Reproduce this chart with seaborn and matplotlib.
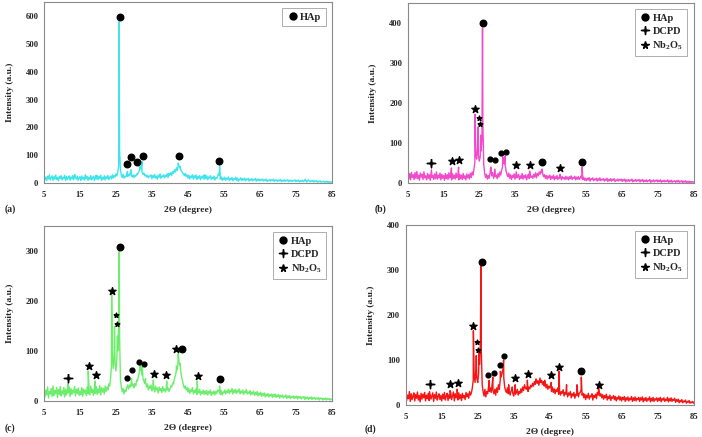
import numpy as np
import pandas as pd
import matplotlib
matplotlib.use("Agg")
import matplotlib.pyplot as plt
from matplotlib.lines import Line2D
import seaborn as sns

# 2-theta grid (every 0.25 degree) and background intensities
two_theta = np.arange(5, 85.001, 0.25)

a_base = [28, 12, 22, 9, 25, 15, 30, 11, 19, 26, 10, 23, 14, 29, 13, 20, 8, 24, 17, 27,
          11, 21, 16, 28, 9, 24, 13, 19, 26, 10, 22, 15, 27, 12, 31, 20, 14, 25, 10, 18,
          23, 9, 26, 14, 20, 11, 30, 16, 24, 10, 21, 13, 27, 12, 19, 25, 9, 22, 15, 28,
          12, 24, 17, 29, 10, 21, 14, 26, 11, 23, 16, 28, 13, 20, 25, 15, 30, 18, 27, 22,
          33, 26, 40, 60, 120, 45, 28, 20, 32, 18, 25, 22, 35, 24, 30, 26, 40, 28, 22, 30,
          20, 28, 24, 33, 30, 38, 45, 55, 50, 40, 32, 36, 26, 30, 22, 28, 19, 26, 23, 30,
          16, 27, 20, 31, 18, 25, 14, 29, 21, 33, 17, 26, 22, 30, 19, 28, 24, 34, 20, 27,
          30, 38, 28, 42, 35, 48, 40, 52, 45, 58, 62, 55, 48, 42, 38, 33, 27, 35, 24, 30,
          18, 28, 15, 25, 20, 30, 14, 26, 19, 29, 13, 24, 17, 27, 12, 23, 18, 28, 14, 24,
          16, 26, 12, 22, 18, 27, 13, 21, 15, 25, 11, 20, 17, 24, 35, 28, 14, 22, 10, 19,
          13, 21, 10, 18, 14, 22, 9, 17, 12, 20, 8, 16, 13, 21, 10, 18, 7, 15, 12, 19,
          9, 16, 11, 18, 8, 15, 12, 17, 7, 14, 10, 16, 8, 13, 11, 17, 7, 14, 9, 15,
          8, 13, 10, 15, 7, 12, 9, 14, 6, 11, 8, 13, 7, 12, 9, 14, 6, 11, 8, 12,
          6, 11, 8, 13, 5, 10, 7, 12, 6, 11, 8, 12, 5, 10, 7, 11, 6, 9, 8, 12,
          5, 10, 7, 11, 4, 9, 6, 10, 5, 9, 7, 11, 4, 8, 12, 7, 5, 9, 6, 10,
          4, 8, 6, 9, 3, 7, 5, 8, 3, 6, 5, 7, 2, 6, 4, 7, 2, 5, 3, 5,
          3]
a_peak_x = [13.6, 16.6, 19.4, 25.9, 28.2, 29.2, 31.1, 31.7, 32.2, 39.7, 41.8, 42.3, 42.8, 49.7, 53.8, 77.6]
a_peak_y = [28, 26, 27, 580, 42, 48, 35, 60, 78, 35, 55, 72, 60, 30, 62, 14]

b_base = [30, 10, 24, 8, 27, 14, 21, 9, 26, 12, 29, 11, 20, 7, 25, 15, 22, 9, 28, 13,
          18, 8, 24, 12, 21, 7, 26, 14, 19, 9, 23, 11, 28, 10, 20, 13, 25, 8, 22, 12,
          19, 7, 24, 11, 21, 9, 26, 13, 18, 8, 23, 12, 20, 10, 25, 14, 19, 8, 22, 11,
          20, 9, 24, 12, 18, 8, 23, 13, 21, 10, 25, 14, 28, 20, 35, 50, 75, 60, 90, 70,
          55, 65, 80, 110, 150, 45, 25, 14, 22, 10, 19, 12, 24, 40, 18, 26, 12, 22, 16, 20,
          11, 24, 15, 28, 20, 32, 40, 55, 48, 45, 30, 22, 16, 25, 12, 21, 9, 19, 14, 23,
          10, 20, 13, 16, 22, 9, 18, 12, 24, 10, 19, 13, 21, 8, 17, 22, 11, 20, 14, 18,
          12, 22, 15, 26, 13, 24, 18, 28, 22, 30, 26, 24, 16, 21, 12, 19, 10, 18, 13, 20,
          9, 17, 12, 20, 8, 16, 11, 19, 9, 15, 12, 18, 8, 16, 11, 14, 9, 17, 10, 15,
          8, 16, 11, 18, 9, 14, 12, 17, 8, 15, 10, 16, 9, 13, 18, 12, 9, 14, 7, 12,
          6, 12, 8, 14, 5, 11, 9, 13, 6, 10, 8, 12, 5, 11, 7, 13, 6, 10, 8, 11,
          5, 10, 7, 12, 4, 9, 6, 11, 5, 10, 7, 11, 4, 8, 6, 10, 5, 9, 7, 10,
          4, 9, 6, 10, 3, 8, 5, 9, 4, 8, 6, 10, 3, 7, 5, 9, 4, 8, 6, 9,
          3, 8, 5, 9, 3, 7, 4, 8, 3, 7, 5, 9, 2, 6, 4, 8, 3, 7, 5, 8,
          3, 7, 4, 8, 2, 6, 4, 7, 3, 6, 4, 8, 2, 6, 3, 7, 2, 5, 4, 6,
          2, 6, 3, 7, 2, 5, 3, 6, 1, 5, 3, 6, 1, 4, 2, 5, 1, 4, 2, 4,
          2]
b_peak_x = [11.6, 17.2, 19.2, 23.8, 24.6, 25.4, 25.9, 28.2, 29.3, 31.6, 32.2, 35.4, 39.1, 42.6, 47.6, 53.8]
b_peak_y = [33, 38, 40, 172, 140, 120, 388, 40, 35, 65, 68, 28, 30, 35, 22, 40]

c_base = [26, 8, 22, 12, 28, 6, 19, 14, 25, 9, 30, 11, 21, 15, 27, 7, 23, 13, 29, 10,
          20, 14, 27, 8, 24, 12, 22, 16, 28, 9, 25, 13, 21, 17, 29, 10, 23, 15, 26, 11,
          19, 13, 27, 9, 24, 16, 22, 10, 28, 14, 25, 12, 30, 17, 23, 11, 26, 15, 29, 13,
          24, 16, 31, 12, 27, 18, 25, 14, 30, 19, 28, 22, 34, 30, 45, 70, 90, 65, 100, 75,
          60, 85, 100, 150, 130, 40, 28, 18, 25, 14, 22, 19, 27, 30, 24, 32, 28, 38, 30, 34,
          26, 35, 30, 42, 40, 50, 58, 65, 60, 52, 45, 40, 35, 38, 28, 34, 22, 30, 25, 32,
          20, 28, 24, 18, 30, 22, 26, 16, 28, 21, 25, 17, 29, 20, 24, 18, 27, 22, 26, 19,
          24, 30, 28, 36, 34, 45, 50, 60, 62, 78, 80, 72, 58, 48, 40, 32, 26, 30, 22, 27,
          18, 25, 15, 22, 19, 27, 14, 21, 17, 24, 13, 20, 16, 23, 12, 19, 15, 22, 13, 20,
          14, 21, 12, 19, 15, 22, 11, 18, 14, 20, 12, 19, 15, 22, 20, 18, 13, 21, 12, 18,
          16, 22, 14, 20, 17, 24, 15, 21, 18, 25, 14, 22, 17, 23, 15, 21, 18, 24, 14, 20,
          16, 22, 13, 19, 17, 23, 14, 18, 15, 21, 12, 18, 14, 20, 11, 17, 13, 19, 10, 16,
          12, 17, 9, 15, 11, 16, 8, 14, 10, 15, 8, 13, 10, 14, 7, 13, 9, 14, 7, 12,
          9, 13, 6, 11, 8, 12, 6, 10, 8, 12, 5, 10, 7, 11, 5, 9, 7, 10, 5, 9,
          6, 10, 4, 9, 6, 9, 4, 8, 6, 9, 3, 8, 5, 8, 3, 7, 5, 8, 3, 7,
          4, 7, 3, 6, 4, 7, 2, 6, 4, 6, 2, 5, 3, 6, 2, 5, 3, 5, 2, 4,
          3]
c_peak_x = [11.6, 17.3, 19.2, 23.8, 24.6, 25.4, 25.9, 28.2, 29.3, 31.7, 32.3, 33.2, 35.4, 39.1, 41.8, 42.3, 42.8, 47.6, 53.8]
c_peak_y = [35, 60, 40, 213, 150, 130, 300, 32, 45, 75, 70, 45, 42, 40, 70, 95, 75, 40, 30]

d_base = [28, 10, 22, 14, 30, 8, 25, 12, 19, 27, 9, 23, 15, 29, 11, 21, 7, 26, 13, 24,
          16, 28, 9, 22, 14, 26, 10, 24, 13, 20, 27, 8, 23, 15, 29, 11, 19, 25, 12, 21,
          9, 24, 14, 28, 11, 20, 26, 10, 23, 15, 27, 12, 21, 29, 9, 25, 16, 22, 11, 27,
          14, 23, 10, 26, 16, 21, 12, 28, 18, 25, 15, 30, 22, 27, 38, 55, 70, 50, 80, 60,
          50, 70, 90, 140, 120, 45, 30, 20, 35, 18, 30, 25, 40, 30, 38, 28, 45, 32, 25, 35,
          22, 38, 28, 45, 35, 55, 62, 70, 80, 60, 40, 32, 28, 38, 25, 32, 22, 30, 34, 26,
          20, 32, 24, 28, 35, 22, 30, 26, 36, 28, 40, 32, 45, 38, 35, 42, 30, 40, 36, 44,
          40, 48, 42, 52, 46, 56, 48, 54, 44, 58, 50, 55, 46, 52, 42, 50, 38, 46, 35, 42,
          38, 44, 30, 40, 28, 36, 25, 34, 30, 38, 24, 32, 22, 30, 26, 34, 20, 28, 24, 30,
          18, 27, 22, 30, 16, 25, 20, 28, 15, 24, 21, 30, 18, 26, 28, 35, 22, 26, 16, 24,
          12, 22, 16, 26, 13, 20, 18, 25, 11, 21, 17, 24, 14, 28, 22, 30, 20, 25, 16, 23,
          13, 21, 16, 24, 11, 19, 14, 22, 10, 18, 15, 21, 12, 19, 9, 17, 13, 20, 11, 18,
          9, 17, 12, 19, 8, 16, 11, 18, 9, 15, 12, 19, 8, 16, 10, 18, 9, 15, 12, 17,
          8, 16, 11, 18, 7, 15, 10, 17, 8, 14, 11, 18, 7, 15, 9, 17, 8, 14, 11, 16,
          8, 15, 10, 17, 7, 14, 11, 16, 8, 13, 10, 17, 7, 14, 9, 16, 8, 13, 10, 15,
          6, 12, 8, 13, 5, 10, 7, 12, 5, 9, 7, 11, 4, 8, 6, 10, 4, 7, 5, 8,
          4]
d_peak_x = [11.6, 17.3, 19.3, 23.8, 24.6, 25.4, 25.9, 28.2, 29.2, 31.3, 32.2, 33.6, 34.6, 35.4, 38.8,
            41.2, 42.3, 43.6, 45.4, 47.6, 49.7, 52.6, 53.8, 58.6]
d_peak_y = [30, 32, 35, 165, 110, 120, 308, 55, 62, 75, 100, 45, 40, 45, 55,
            58, 60, 55, 50, 75, 45, 45, 62, 38]

# phase markers (x, y) per panel; "sm" = the smaller symbols
a_hap_x = [26.1, 28.0, 29.1, 30.9, 32.4, 42.5, 53.6]
a_hap_y = [598, 67, 94, 76, 99, 98, 81]

b_hap_x = [26.1, 42.5, 53.7]
b_hap_y = [400, 52, 53]
b_hap_sm_x = [28.1, 29.5, 31.1, 32.5]
b_hap_sm_y = [59, 57, 74, 78]
b_dcpd_x = [11.6]
b_dcpd_y = [49]
b_nb_x = [23.8, 17.4, 19.4, 35.4, 39.1, 47.6]
b_nb_y = [185, 54, 58, 44, 44, 38]
b_nb_sm_x = [24.8, 25.1]
b_nb_sm_y = [162, 147]

c_hap_x = [26.2, 43.4, 53.8]
c_hap_y = [309, 104, 45]
c_hap_sm_x = [28.2, 29.5, 31.3, 32.7]
c_hap_sm_y = [47, 62, 78, 75]
c_dcpd_x = [11.7]
c_dcpd_y = [47]
c_nb_x = [23.9, 17.5, 19.4, 35.5, 39.0, 41.6, 47.8]
c_nb_y = [221, 71, 53, 55, 53, 104, 51]
c_nb_sm_x = [24.9, 25.3]
c_nb_sm_y = [172, 155]

d_hap_x = [26.1, 53.8]
d_hap_y = [318, 75]
d_hap_sm_x = [27.9, 29.4, 31.1, 32.2]
d_hap_sm_y = [67, 72, 89, 109]
d_dcpd_x = [11.7]
d_dcpd_y = [47]
d_nb_x = [23.8, 17.2, 19.4, 35.4, 39.0, 45.4, 47.7, 58.6]
d_nb_y = [176, 47, 50, 59, 70, 66, 84, 44]
d_nb_sm_x = [24.8, 25.0]
d_nb_sm_y = [141, 123]

x_ticks = [5, 15, 25, 35, 45, 55, 65, 75, 85]

for name, arr in [('a', a_base), ('b', b_base), ('c', c_base), ('d', d_base)]:
    if len(arr) != len(two_theta):
        raise SystemExit(f"{name}_base has {len(arr)} values, need {len(two_theta)}")

sns.set_style("white")
plt.rcParams['font.family'] = ['Liberation Serif', 'DejaVu Serif']
plt.rcParams['font.weight'] = 'bold'
plt.rcParams['mathtext.fontset'] = 'custom'
plt.rcParams['mathtext.rm'] = 'Liberation Serif:bold'
plt.rcParams['mathtext.bf'] = 'Liberation Serif:bold'
plt.rcParams['mathtext.default'] = 'bf'

# thin four-armed cross used for DCPD
PLUS = [(0, 1), (0.14, 0.14), (1, 0), (0.14, -0.14), (0, -1),
        (-0.14, -0.14), (-1, 0), (-0.14, 0.14), (0, 1)]


def pattern(ax, base, px, py, color, ymax, yticks):
    df = pd.DataFrame({'x': np.concatenate([two_theta, px]),
                       'y': np.concatenate([base, py])})
    sns.lineplot(data=df, x='x', y='y', ax=ax, color=color, lw=1.0,
                 estimator=None, sort=True)
    ax.set_xlim(5, 85)
    ax.set_ylim(0, ymax)
    ax.set_xticks(x_ticks)
    ax.set_yticks(yticks)
    ax.tick_params(length=0, labelsize=6.2)
    ax.tick_params(axis='x', pad=5.5)
    ax.tick_params(axis='y', pad=4)
    for lab in ax.get_xticklabels() + ax.get_yticklabels():
        lab.set_fontweight('bold')
    ax.set_xlabel('2Θ (degree)', fontsize=6.8, fontweight='bold', labelpad=5.5)
    ax.set_ylabel('Intensity (a.u.)', fontsize=6.8, fontweight='bold', labelpad=8.5)
    for s in ax.spines.values():
        s.set_color('#8a8a8a')
        s.set_linewidth(0.8)


def legend(ax, three=True):
    h = [Line2D([], [], ls='', marker='o', color='k', ms=5)]
    labels = ['HAp']
    if three:
        h += [Line2D([], [], ls='', marker=PLUS, color='k', ms=6),
              Line2D([], [], ls='', marker='*', color='k', ms=5.5)]
        labels += ['DCPD', 'Nb$_2$O$_5$']
    leg = ax.legend(h, labels, loc='upper right', fontsize=7.5, frameon=True,
                    fancybox=False, edgecolor='#8a8a8a', handletextpad=0.1,
                    handlelength=1.2, borderpad=0.4, labelspacing=0.35,
                    borderaxespad=0.6)
    leg.get_frame().set_linewidth(0.6)
    for t in leg.get_texts():
        t.set_fontweight('bold')


def marks(ax, hx, hy, hsx=None, hsy=None, dx=None, dy=None, nx=None, ny=None, nsx=None, nsy=None):
    ax.scatter(hx, hy, marker='o', s=22, color='k', zorder=5)
    if hsx:
        ax.scatter(hsx, hsy, marker='o', s=12, color='k', zorder=5)
    if dx:
        ax.scatter(dx, dy, marker=PLUS, s=40, color='k', zorder=5)
    if nx:
        ax.scatter(nx, ny, marker='*', s=30, color='k', zorder=5)
    if nsx:
        ax.scatter(nsx, nsy, marker='*', s=12, color='k', zorder=5)


fig = plt.figure(figsize=(7.02, 4.37), dpi=100)
ax_a = fig.add_axes([0.0627, 0.581, 0.410, 0.414])
ax_b = fig.add_axes([0.581, 0.581, 0.407, 0.412])
ax_c = fig.add_axes([0.0627, 0.0824, 0.410, 0.400])
ax_d = fig.add_axes([0.578, 0.0732, 0.410, 0.412])

pattern(ax_a, a_base, a_peak_x, a_peak_y, '#40E4EC', 650, [0, 100, 200, 300, 400, 500, 600])
marks(ax_a, a_hap_x, a_hap_y)
legend(ax_a, three=False)

pattern(ax_b, b_base, b_peak_x, b_peak_y, '#F24ACB', 450, [0, 100, 200, 300, 400])
marks(ax_b, b_hap_x, b_hap_y, b_hap_sm_x, b_hap_sm_y, b_dcpd_x, b_dcpd_y,
      b_nb_x, b_nb_y, b_nb_sm_x, b_nb_sm_y)
legend(ax_b)

pattern(ax_c, c_base, c_peak_x, c_peak_y, '#6CEE6C', 350, [0, 100, 200, 300])
marks(ax_c, c_hap_x, c_hap_y, c_hap_sm_x, c_hap_sm_y, c_dcpd_x, c_dcpd_y,
      c_nb_x, c_nb_y, c_nb_sm_x, c_nb_sm_y)
legend(ax_c)

pattern(ax_d, d_base, d_peak_x, d_peak_y, '#F51515', 400, [0, 100, 200, 300, 400])
marks(ax_d, d_hap_x, d_hap_y, d_hap_sm_x, d_hap_sm_y, d_dcpd_x, d_dcpd_y,
      d_nb_x, d_nb_y, d_nb_sm_x, d_nb_sm_y)
legend(ax_d)

for txt, x, y in [('(a)', 0.007, 0.522), ('(b)', 0.533, 0.522),
                  ('(c)', 0.007, 0.021), ('(d)', 0.519, 0.018)]:
    fig.text(x, y, txt, fontsize=7, fontweight='bold', va='center', ha='left')

fig.savefig('out.png', dpi=100)
